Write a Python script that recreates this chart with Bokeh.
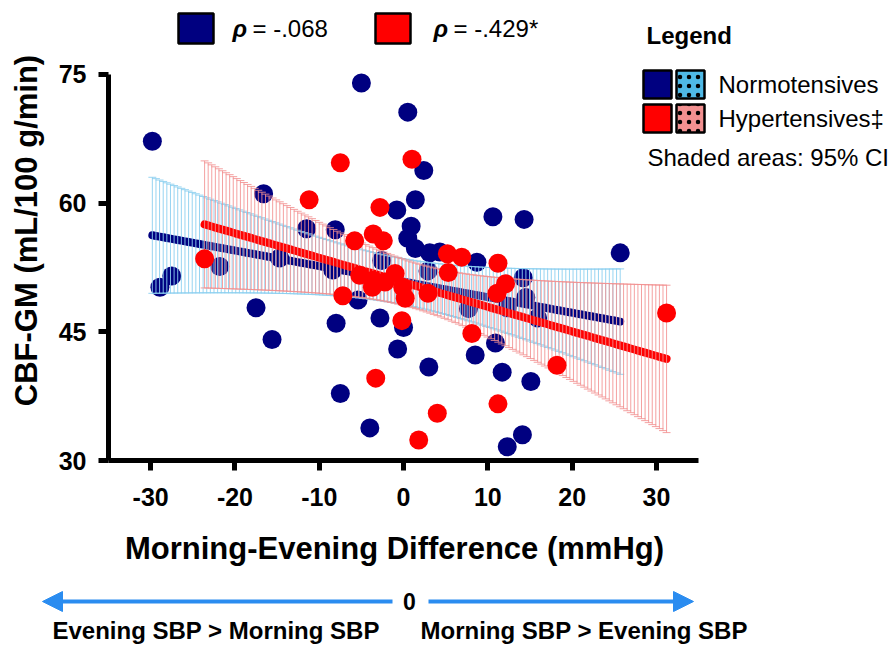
import numpy as np
from bokeh.plotting import figure
from bokeh.layouts import column
from bokeh.models import Range1d, FixedTicker, Label, BoxAnnotation, Arrow, NormalHead
from bokeh.embed import file_html
from bokeh.resources import INLINE

# Morning-evening SBP difference (mmHg) and grey-matter CBF (mL/100 g/min)
normo_x = [-29.8, -28.9, -27.5, -21.8, -17.5, -16.6, -15.6, -14.7, -11.5, -8.4,
           -8.1, -8.0, -7.5, -5.4, -5.0, -4.0, -2.8, -2.6, -0.8, -0.7,
           0.0, 0.5, 0.5, 0.9, 1.4, 1.4, 2.4, 2.9, 3.0, 3.1,
           4.3, 7.7, 8.5, 8.7, 10.6, 10.9, 11.7, 12.3, 12.3, 14.1,
           14.2, 14.3, 14.5, 15.1, 15.9, 25.7]
normo_y = [67.2, 50.2, 51.5, 52.6, 47.8, 61.1, 44.1, 53.6, 57.0, 52.2,
           56.9, 46.0, 37.8, 48.7, 74.0, 33.8, 46.6, 53.3, 59.2, 43.0,
           45.5, 70.6, 55.9, 57.3, 60.4, 54.7, 63.8, 52.1, 40.9, 54.2,
           54.3, 47.7, 42.3, 53.1, 58.4, 43.7, 40.3, 47.8, 31.6, 33.0,
           51.3, 58.1, 49.0, 39.2, 46.6, 54.2]

hyper_x = [-23.6, -11.2, -7.5, -7.2, -5.8, -5.2, -3.7, -3.6, -3.6, -3.3,
           -2.8, -2.4, -2.2, -1.0, -0.2, -0.1, 0.2, 1.0, 1.8, 2.9,
           4.0, 5.2, 5.3, 6.9, 8.1, 11.1, 11.2, 11.2, 12.1, 18.2, 31.2]
hyper_y = [53.5, 60.4, 64.7, 49.2, 55.6, 51.6, 50.2, 56.4, 51.0, 39.6,
           59.5, 55.6, 50.8, 51.8, 46.3, 50.2, 48.9, 65.1, 32.4, 49.5,
           35.5, 54.1, 51.9, 53.7, 44.8, 49.5, 53.0, 36.6, 50.6, 41.1, 47.2]

x_ticks = [-30, -20, -10, 0, 10, 20, 30]
y_ticks = [30, 45, 60, 75]
x_tick_labels = ["-30", "-20", "-10", "0", "10", "20", "30"]
y_tick_labels = ["30", "45", "60", "75"]
x_bounds = (-35, 35)
y_bounds = (30, 75)
x_title = "Morning-Evening Difference (mmHg)"
y_title = "CBF-GM (mL/100 g/min)"
rho_text = ["= -.068", "= -.429*"]
group_names = ["Normotensives", "Hypertensives\u2021"]
direction_text = ["Evening SBP > Morning SBP", "Morning SBP > Evening SBP"]

FONT = "Liberation Sans"
NAVY = "#000080"
RED = "#ff0000"
BLUE_CI = "#8ccfef"
RED_CI = "#f29090"
BLUE_SWATCH = "#4fb9e6"
ARROW = "#2a8cf0"

W = 893
MAIN_H = 522
FOOT_H = 646 - MAIN_H
PX_X = 8.43   # pixels per mmHg
PX_Y = 8.58   # pixels per mL/100 g/min
LEFT = 108
BOTTOM = MAIN_H - 460


def t_crit(df):
    # two-sided 95% Student t quantile (Cornish-Fisher expansion)
    z = 1.959964
    return z + (z**3 + z) / (4 * df) + (5 * z**5 + 16 * z**3 + 3 * z) / (96 * df**2)


def fit_band(x, y, n=130):
    x = np.asarray(x, float)
    y = np.asarray(y, float)
    slope, icpt = np.polyfit(x, y, 1)
    xs = np.linspace(x.min(), x.max(), n)
    yh = icpt + slope * xs
    resid = y - (icpt + slope * x)
    s = np.sqrt((resid ** 2).sum() / (len(x) - 2))
    sxx = ((x - x.mean()) ** 2).sum()
    half = t_crit(len(x) - 2) * s * np.sqrt(1 / len(x) + (xs - x.mean()) ** 2 / sxx)
    return xs, yh, yh - half, yh + half


# the frame runs to the top and right edges so the keys there stay visible;
# axis bounds keep the drawn axes to the data extent
x_hi = x_bounds[0] + (W - LEFT) / PX_X
y_hi = y_bounds[0] + (MAIN_H - BOTTOM) / PX_Y
p = figure(width=W, height=MAIN_H, x_range=Range1d(x_bounds[0], x_hi),
           y_range=Range1d(y_bounds[0], y_hi),
           output_backend="svg", toolbar_location=None,
           min_border_left=LEFT, min_border_right=0, min_border_top=0, min_border_bottom=BOTTOM)
p.frame_align = False
p.outline_line_color = None
p.grid.visible = False
p.background_fill_color = "white"
p.border_fill_color = "white"

for ax, ticks, labels, bounds in ((p.xaxis, x_ticks, x_tick_labels, x_bounds),
                                  (p.yaxis, y_ticks, y_tick_labels, y_bounds)):
    ax.ticker = FixedTicker(ticks=ticks)
    ax.major_label_overrides = dict(zip(ticks, labels))
    ax.bounds = bounds
    ax.axis_line_width = 5
    ax.axis_line_color = "black"
    ax.major_tick_line_width = 5
    ax.major_tick_line_color = "black"
    ax.major_tick_out = 10
    ax.major_tick_in = 0
    ax.minor_tick_line_color = None
    ax.major_label_text_font = FONT
    ax.major_label_text_font_style = "bold"
    ax.major_label_text_font_size = "25px"
    ax.major_label_text_color = "black"
    ax.axis_label_text_font = FONT
    ax.axis_label_text_font_style = "bold"
    ax.axis_label_text_font_size = "31px"
    ax.axis_label_text_color = "black"

p.yaxis.axis_label = y_title
p.xaxis.major_label_standoff = 17
p.yaxis.major_label_standoff = 12
p.yaxis.axis_label_standoff = 12

CAP = 0.47


def draw_group(xv, yv, dot, line_col, ci_col, ci_alpha, dots_on_top):
    xs, yh, lo, hi = fit_band(xv, yv)
    if not dots_on_top:
        p.scatter(xv, yv, size=19, fill_color=dot, line_color=None)
    p.line(xs, yh, line_color=line_col, line_width=8, line_cap="round")
    p.segment(xs, lo, xs, hi, line_color=ci_col, line_width=1, line_alpha=ci_alpha)
    p.segment(xs - CAP, hi, xs + CAP, hi, line_color=ci_col, line_width=1, line_alpha=ci_alpha)
    p.segment(xs - CAP, lo, xs + CAP, lo, line_color=ci_col, line_width=1, line_alpha=ci_alpha)
    if dots_on_top:
        p.scatter(xv, yv, size=19, fill_color=dot, line_color=None)


draw_group(normo_x, normo_y, NAVY, NAVY, BLUE_CI, 0.9, False)
draw_group(hyper_x, hyper_y, RED, RED, RED_CI, 0.85, True)


def box(fig, l, r, b, t, fill, hatch=False):
    kw = dict(left=l, right=r, bottom=b, top=t,
              left_units="screen", right_units="screen", top_units="screen", bottom_units="screen",
              fill_color=fill, fill_alpha=1.0, line_color="black", line_width=2.5, line_alpha=1.0)
    if hatch:
        kw.update(hatch_pattern=".", hatch_color="black", hatch_scale=9, hatch_weight=2.5)
    fig.add_layout(BoxAnnotation(**kw))


def label(fig, x, y, text, size="24px", style="normal", align="left"):
    fig.add_layout(Label(x=x, y=y, x_units="screen", y_units="screen", text=text,
                         text_font=FONT, text_font_size=size, text_font_style=style,
                         text_color="black", text_baseline="middle", text_align=align))


# correlation key above the plot
box(p, 70, 105, 417, 447, NAVY)
label(p, 124, 432, "\u03c1", style="bold italic")
label(p, 144, 432, rho_text[0])
box(p, 267, 302, 417, 447, RED)
label(p, 325, 432, "\u03c1", style="bold italic")
label(p, 345, 432, rho_text[1])

# group key on the right
label(p, 538, 425, "Legend", style="bold")
box(p, 535, 563, 362, 390, NAVY)
box(p, 568, 596, 362, 390, BLUE_SWATCH, hatch=True)
label(p, 610, 376, group_names[0])
box(p, 535, 563, 328, 356, RED)
box(p, 568, 596, 328, 356, RED_CI, hatch=True)
label(p, 610, 342, group_names[1])
label(p, 539, 303, "Shaded areas: 95% CI")

# x-axis title and direction key under the chart
foot = figure(width=W, height=FOOT_H, x_range=Range1d(0, W), y_range=Range1d(0, FOOT_H),
              output_backend="svg", toolbar_location=None, min_border=0,
              x_axis_location=None, y_axis_location=None)
foot.frame_align = False
foot.grid.visible = False
foot.outline_line_color = None
foot.border_fill_color = "white"
label(foot, 394, 98, x_title, size="31px", style="bold", align="center")
for x0, x1 in ((392, 42), (428, 693)):
    foot.add_layout(Arrow(x_start=x0, y_start=45, x_end=x1, y_end=45,
                          start_units="screen", end_units="screen",
                          line_color=ARROW, line_width=4,
                          end=NormalHead(size=20, fill_color=ARROW, line_color=ARROW)))
label(foot, 409, 45, "0", size="23px", style="bold", align="center")
label(foot, 52, 16, direction_text[0], size="24px", style="bold")
label(foot, 420, 16, direction_text[1], size="24px", style="bold")

layout = column(p, foot, spacing=0)
open("out.html", "w").write(file_html(layout, INLINE))
